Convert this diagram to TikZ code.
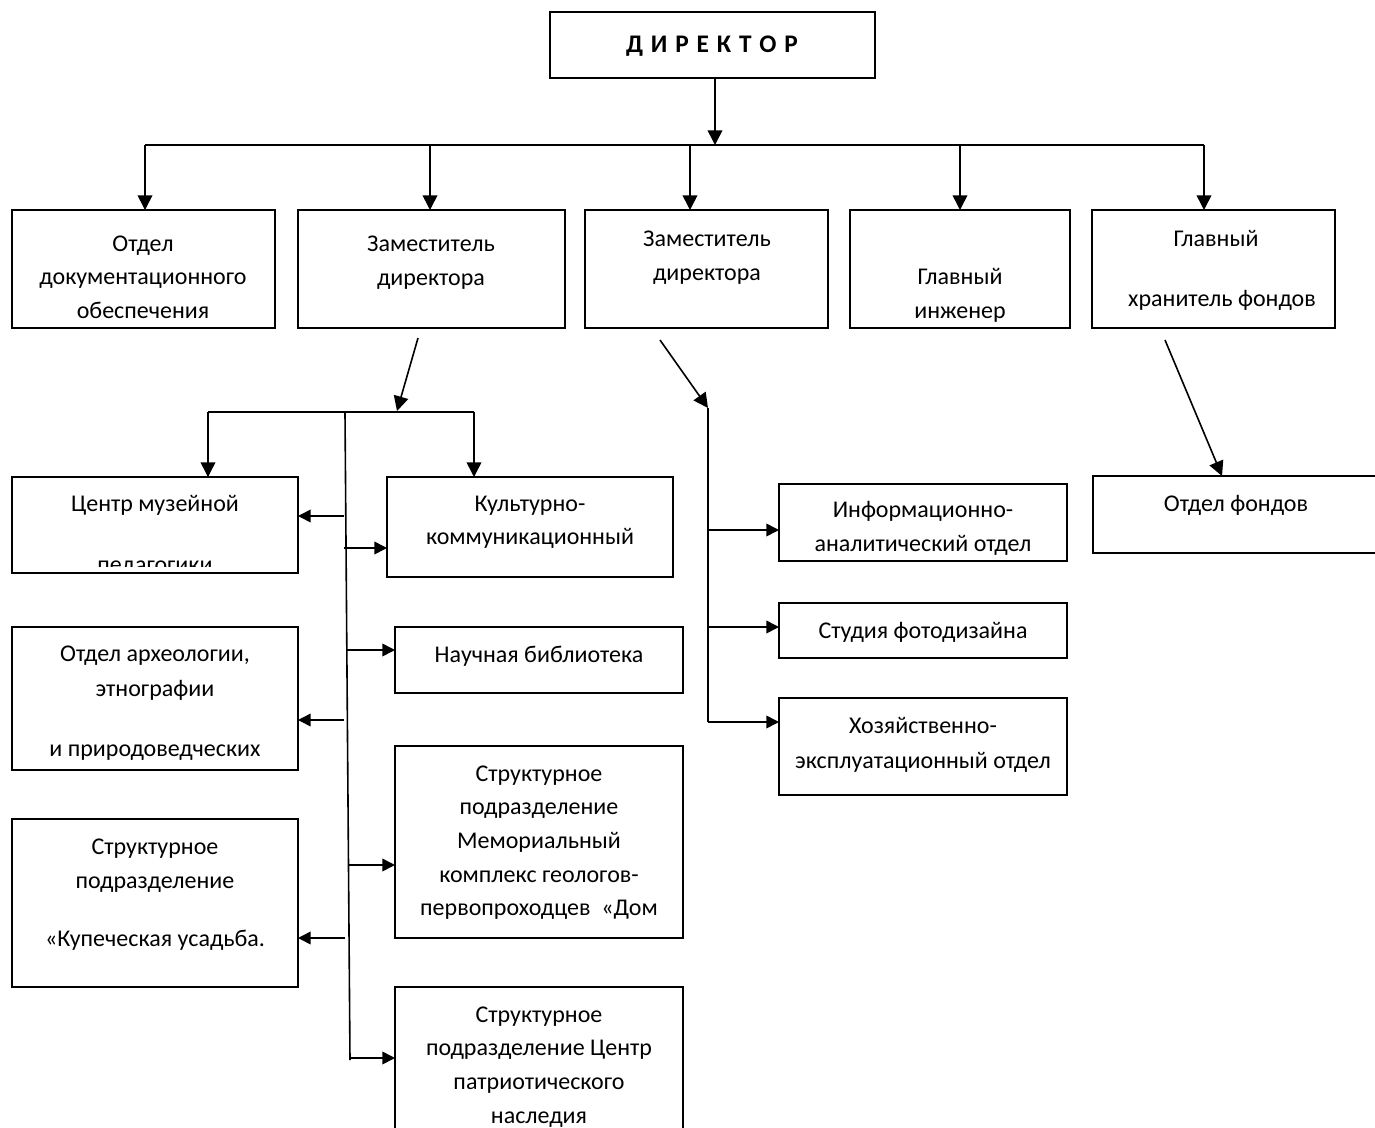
\documentclass[tikz,border=0pt]{standalone}
\usepackage{fontspec}
\setmainfont{Carlito}
\usetikzlibrary{arrows.meta}
\tikzset{
  box/.style={draw, line width=1.3pt, inner sep=0pt, outer sep=0pt},
  lbl/.style={anchor=base, inner sep=0pt, font=\fontsize{18}{22}\selectfont},
  conn/.style={line width=1.2pt, -{Triangle[length=11pt,width=11pt]}},
  sconn/.style={line width=1.2pt, -{Triangle[length=9.5pt,width=9.5pt]}},
  ln/.style={line width=1.2pt}
}
\newcommand{\mybox}[5]{\node[box, minimum width={(#4-#2)*0.75pt}, minimum height={(#5-#3)*0.75pt}] (#1) at ({(#2+#4)/2},{(#3+#5)/2}) {};}
\newcommand{\lsp}{\hspace{1.6pt} }
\begin{document}
\begin{tikzpicture}[x=0.75pt,y=-0.75pt]
\useasboundingbox (0,0) rectangle (1375,1128);
\fill[white] (0,0) rectangle (1375,1128);
% boxes
\mybox{dir}{550}{12}{875}{78}
\mybox{b1}{12}{210}{275}{328}
\mybox{b2}{298}{210}{565}{328}
\mybox{b3}{585}{210}{828}{328}
\mybox{b4}{850}{210}{1070}{328}
\mybox{b5}{1092}{210}{1335}{328}
\mybox{c1}{12}{477}{298}{573}
\mybox{c2}{387}{477}{673}{577}
\mybox{c3}{395}{627}{683}{693}
\mybox{c4}{12}{627}{298}{770}
\mybox{c5}{395}{746}{683}{938}
\mybox{c6}{12}{819}{298}{987}
\mybox{c7}{395}{987}{683}{1145}
\mybox{r1}{779}{484}{1067}{561}
\mybox{r2}{779}{603}{1067}{658}
\mybox{r3}{779}{698}{1067}{795}
\mybox{f1}{1093}{476}{1390}{553}
% texts
\node[lbl, font=\fontsize{19}{22}\selectfont\bfseries] (tdir) at (712,52) {Д\lsp И\lsp Р\lsp Е\lsp К\lsp Т\lsp О\lsp Р};
\node[lbl] (t1a) at (143,251) {Отдел};
\node[lbl] (t1b) at (143,284) {документационного};
\node[lbl] (t1c) at (143,318) {обеспечения};
\node[lbl] (t2a) at (431,251) {Заместитель};
\node[lbl] (t2b) at (431,285) {директора};
\node[lbl] (t3a) at (707,246) {Заместитель};
\node[lbl] (t3b) at (707,280) {директора};
\node[lbl] (t4a) at (960,284) {Главный};
\begin{scope}
\clip (850,210) rectangle (1070,327);
\node[lbl] (t4b) at (960,318) {инженер};
\end{scope}
\node[lbl] (t5a) at (1216,246) {Главный};
\node[lbl] (t5b) at (1222,306) {хранитель фондов};
\node[lbl] (tc1a) at (155,511) {Центр музейной};
\begin{scope}
\clip (12,477) rectangle (298,566);
\node[lbl] (tc1b) at (155,572) {педагогики};
\end{scope}
\node[lbl] (tc2a) at (530,511) {Культурно-};
\node[lbl] (tc2b) at (530,544) {коммуникационный};
\node[lbl] (tc3a) at (539,662) {Научная библиотека};
\node[lbl] (tc4a) at (155,661) {Отдел археологии,};
\node[lbl] (tc4b) at (155,696) {этнографии};
\node[lbl] (tc4c) at (155,756) {и природоведческих};
\node[lbl] (tc5a) at (539,781) {Структурное};
\node[lbl] (tc5b) at (539,814) {подразделение};
\node[lbl] (tc5c) at (539,848) {Мемориальный};
\node[lbl] (tc5d) at (539,882) {комплекс геологов-};
\node[lbl] (tc5e) at (539,915) {первопроходцев\ \ «Дом};
\node[lbl] (tc6a) at (155,854) {Структурное};
\node[lbl] (tc6b) at (155,888) {подразделение};
\node[lbl] (tc6c) at (155,946) {«Купеческая усадьба.};
\node[lbl] (tc7a) at (539,1022) {Структурное};
\node[lbl] (tc7b) at (539,1055) {подразделение Центр};
\node[lbl] (tc7c) at (539,1089) {патриотического};
\node[lbl] (tc7d) at (539,1123) {наследия};
\node[lbl] (tr1a) at (923,517) {Информационно-};
\node[lbl] (tr1b) at (923,551) {аналитический отдел};
\node[lbl] (tr2a) at (923,638) {Студия фотодизайна};
\node[lbl] (tr3a) at (923,733) {Хозяйственно-};
\node[lbl] (tr3b) at (923,768) {эксплуатационный отдел};
\node[lbl] (tf1a) at (1236,511) {Отдел фондов};
% top bus
\coordinate (tb1) at (145,145);
\coordinate (tb2) at (430,145);
\coordinate (tb3) at (690,145);
\coordinate (tb4) at (960,145);
\coordinate (tb5) at (1204,145);
\coordinate (dsrc) at (715,78);
\draw[conn] (dsrc) -- (dsrc |- tb1);
\draw[ln] (tb1) -- (tb5);
\draw[conn] (tb1) -- (tb1 |- b1.north);
\draw[conn] (tb2) -- (tb2 |- b2.north);
\draw[conn] (tb3) -- (tb3 |- b3.north);
\draw[conn] (tb4) -- (tb4 |- b4.north);
\draw[conn] (tb5) -- (tb5 |- b5.north);
% left group
\coordinate (g1s) at (418,338);
\coordinate (g1j) at (397,411);
\coordinate (g1a) at (208,412);
\coordinate (g1b) at (474,412);
\coordinate (v1t) at (345,413);
\coordinate (v1b) at (350,1060);
\draw[conn] (g1s) -- (g1j);
\draw[ln] (g1a) -- (g1b);
\draw[conn] (g1a) -- (g1a |- c1.north);
\draw[conn] (g1b) -- (g1b |- c2.north);
\draw[ln] (v1t) -- (v1b);
\coordinate (sl1) at (344,516);
\coordinate (sl2) at (344,720);
\coordinate (sl3) at (345,938);
\draw[sconn] (sl1) -- (sl1 -| c1.east);
\draw[sconn] (sl2) -- (sl2 -| c4.east);
\draw[sconn] (sl3) -- (sl3 -| c6.east);
\coordinate (sr1) at (344,548);
\coordinate (sr2) at (347,650);
\coordinate (sr3) at (348,865);
\coordinate (sr4) at (350,1058);
\draw[sconn] (sr1) -- (sr1 -| c2.west);
\draw[sconn] (sr2) -- (sr2 -| c3.west);
\draw[sconn] (sr3) -- (sr3 -| c5.west);
\draw[sconn] (sr4) -- (sr4 -| c7.west);
% right group
\coordinate (g2s) at (660,340);
\coordinate (g2j) at (708,408);
\coordinate (g2b) at (708,722);
\draw[conn] (g2s) -- (g2j);
\draw[ln] (g2j) -- (g2b);
\coordinate (q1) at (708,530);
\coordinate (q2) at (708,627);
\draw[sconn] (q1) -- (q1 -| r1.west);
\draw[sconn] (q2) -- (q2 -| r2.west);
\draw[sconn] (g2b) -- (g2b -| r3.west);
% far right
\coordinate (g3s) at (1165,340);
\coordinate (g3e) at (1222,476);
\draw[conn] (g3s) -- (g3e);
\end{tikzpicture}
\end{document}
